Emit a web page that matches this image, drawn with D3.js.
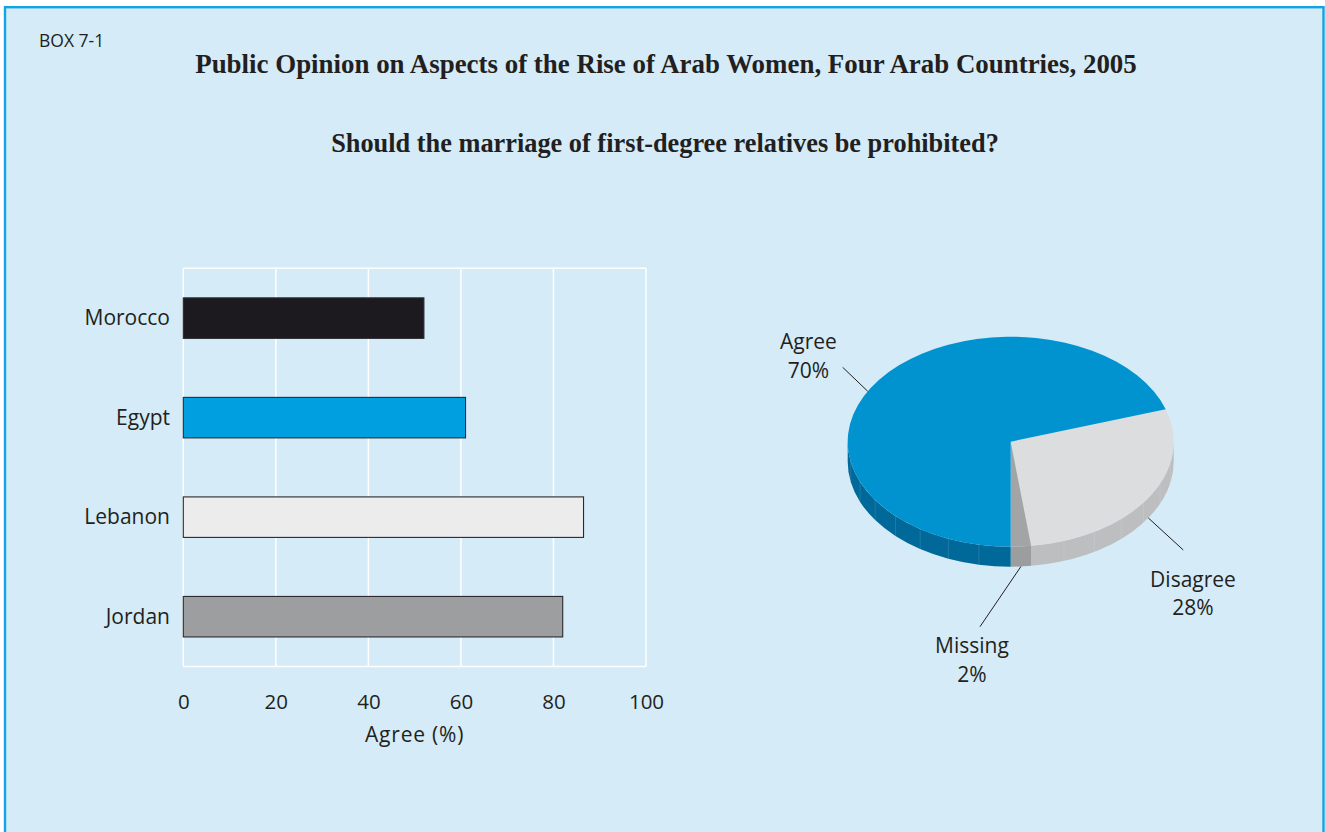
<!DOCTYPE html>
<html>
<head>
<meta charset="utf-8">
<script src="https://cdn.jsdelivr.net/npm/d3@7"></script>
<style>
  html, body { margin: 0; padding: 0; background: #ffffff; }
  svg { display: block; }
</style>
</head>
<body>
<svg id="chart" width="1325" height="832"></svg>
<script>
// ---------- DATA ----------
const boxLabel = "BOX 7-1";
const title = "Public Opinion on Aspects of the Rise of Arab Women, Four Arab Countries, 2005";
const subtitle = "Should the marriage of first-degree relatives be prohibited?";

const countries = ["Morocco", "Egypt", "Lebanon", "Jordan"];
const agreeValues = [52, 61, 86.5, 82];
const barColors = ["#1c1a1f", "#009fe0", "#ececec", "#9d9ea0"];
const xTicks = [0, 20, 40, 60, 80, 100];
const xAxisTitle = "Agree (%)";

const pieCategories = ["Disagree", "Missing", "Agree"];
const pieValues = [28, 2, 70];
const pieTopColors = ["#dcdddf", "#a3a4a6", "#0093d0"];
const pieSideColors = ["#bdbec0", "#9c9d9f", "#00699a"];

// ---------- LAYOUT ----------
const svg = d3.select("#chart");
const FONT = "'Open Sans', 'Noto Sans', sans-serif";
const SERIF = "'Liberation Serif', 'DejaVu Serif', serif";

svg.append("rect")
  .attr("x", 5).attr("y", 7.2).attr("width", 1318.5).attr("height", 900)
  .attr("fill", "#d5ebf8").attr("stroke", "#10a4e4").attr("stroke-width", 2.4);

svg.append("text").attr("x", 39).attr("y", 47)
  .attr("font-family", FONT).attr("font-size", 17.5).attr("fill", "#231f20")
  .text(boxLabel);

function fitText(sel, targetWidth) {
  const w = sel.node().getComputedTextLength();
  const fs = parseFloat(sel.attr("font-size"));
  sel.attr("font-size", fs * targetWidth / w);
}

const t1 = svg.append("text").attr("x", 666).attr("y", 73)
  .attr("text-anchor", "middle").attr("font-family", SERIF)
  .attr("font-weight", "bold").attr("font-size", 24).attr("fill", "#231f20")
  .text(title);
fitText(t1, 942);

const t2 = svg.append("text").attr("x", 665).attr("y", 151.5)
  .attr("text-anchor", "middle").attr("font-family", SERIF)
  .attr("font-weight", "bold").attr("font-size", 24).attr("fill", "#231f20")
  .text(subtitle);
fitText(t2, 668);

// ---------- BAR CHART ----------
const x = d3.scaleLinear().domain([0, 100]).range([183.3, 646]);
const y = d3.scaleBand().domain(countries).range([268.3, 666.5])
  .paddingInner(0.593).paddingOuter(0.297);

const gBar = svg.append("g");

gBar.selectAll("line.grid").data(xTicks).enter().append("line")
  .attr("x1", d => x(d)).attr("x2", d => x(d))
  .attr("y1", y.range()[0]).attr("y2", y.range()[1])
  .attr("stroke", "#ffffff").attr("stroke-width", 1.5);
[y.range()[0], y.range()[1]].forEach(yy => {
  gBar.append("line")
    .attr("x1", x(0)).attr("x2", x(100)).attr("y1", yy).attr("y2", yy)
    .attr("stroke", "#ffffff").attr("stroke-width", 1.5);
});

gBar.selectAll("rect.bar").data(countries).enter().append("rect")
  .attr("x", x(0))
  .attr("y", d => y(d))
  .attr("width", (d, i) => x(agreeValues[i]) - x(0))
  .attr("height", y.bandwidth())
  .attr("fill", (d, i) => barColors[i])
  .attr("stroke", "#2a2a2e").attr("stroke-width", 1.1);

gBar.selectAll("text.cat").data(countries).enter().append("text")
  .attr("x", 170).attr("y", d => y(d) + y.bandwidth() / 2)
  .attr("dy", "0.33em").attr("text-anchor", "end")
  .attr("font-family", FONT).attr("font-size", 21).attr("fill", "#231f20")
  .text(d => d);

const xAxis = d3.axisBottom(x).tickValues(xTicks).tickSize(0).tickPadding(0);
const gx = gBar.append("g").attr("transform", "translate(0,688)").call(xAxis);
gx.select(".domain").remove();
gx.selectAll("text").attr("font-family", FONT).attr("font-size", 20.5)
  .attr("fill", "#231f20").attr("dy", "1em");

gBar.append("text").attr("x", (x(0) + x(100)) / 2).attr("y", 742)
  .attr("text-anchor", "middle").attr("font-family", FONT).attr("font-size", 21)
  .attr("letter-spacing", 0.8)
  .attr("fill", "#231f20").text(xAxisTitle);

// ---------- 3D PIE ----------
const cx = 1010.7, cy = 441.7, rx = 163, ry = 105, depth = 20;
const startDeg = 72;
const pie = d3.pie().sort(null).value(d => d)
  .startAngle(startDeg * Math.PI / 180)
  .endAngle((startDeg + 360) * Math.PI / 180);
const arcs = pie(pieValues);

function pt(a, dy = 0) {
  return [cx + rx * Math.sin(a), cy - ry * Math.cos(a) + dy];
}
function topPath(a0, a1) {
  const p0 = pt(a0), p1 = pt(a1);
  const large = (a1 - a0) > Math.PI ? 1 : 0;
  return `M${cx},${cy}L${p0[0]},${p0[1]}A${rx},${ry} 0 ${large} 1 ${p1[0]},${p1[1]}Z`;
}
function sidePath(a0, a1) {
  const p0 = pt(a0), p1 = pt(a1), q1 = pt(a1, depth), q0 = pt(a0, depth);
  return `M${p0[0]},${p0[1]}A${rx},${ry} 0 0 1 ${p1[0]},${p1[1]}` +
         `L${q1[0]},${q1[1]}A${rx},${ry} 0 0 0 ${q0[0]},${q0[1]}Z`;
}

const gPie = svg.append("g");
arcs.forEach((d, i) => {
  for (let k = -1; k <= 1; k++) {
    const lo = Math.PI / 2 + k * 2 * Math.PI, hi = 1.5 * Math.PI + k * 2 * Math.PI;
    const s = Math.max(d.startAngle, lo), e = Math.min(d.endAngle, hi);
    if (e > s) {
      gPie.append("path").attr("d", sidePath(s, e))
        .attr("fill", pieSideColors[i]);
      const n = Math.max(1, Math.round((e - s) / 0.2));
      for (let j = 1; j < n; j++) {
        const a = s + (e - s) * j / n;
        const p = pt(a), q = pt(a, depth);
        gPie.append("line").attr("x1", p[0]).attr("y1", p[1])
          .attr("x2", q[0]).attr("y2", q[1])
          .attr("stroke", "#ffffff").attr("stroke-opacity", 0.15).attr("stroke-width", 0.8);
      }
    }
  }
});
arcs.forEach((d, i) => {
  gPie.append("path").attr("d", topPath(d.startAngle, d.endAngle))
    .attr("fill", pieTopColors[i]);
});

const labelLayout = {
  "Agree":    { a: 298.7, dy: 0,     end: [842.7, 367.3], tx: 808.5, ty: 349 },
  "Disagree": { a: null,  dy: depth, end: [1183.3, 550],  tx: 1193,  ty: 586.7 },
  "Missing":  { a: null,  dy: depth, end: [980, 626.7],   tx: 972,   ty: 653 }
};
arcs.forEach((d, i) => {
  const name = pieCategories[i];
  const L = labelLayout[name];
  const a = L.a !== null ? L.a * Math.PI / 180 : (d.startAngle + d.endAngle) / 2;
  const p = pt(a, L.dy);
  gPie.append("line").attr("x1", p[0]).attr("y1", p[1])
    .attr("x2", L.end[0]).attr("y2", L.end[1])
    .attr("stroke", "#231f20").attr("stroke-width", 1);
  const t = gPie.append("text").attr("text-anchor", "middle")
    .attr("font-family", FONT).attr("font-size", 21).attr("fill", "#231f20");
  t.append("tspan").attr("x", L.tx).attr("y", L.ty).text(name);
  t.append("tspan").attr("x", L.tx).attr("y", L.ty + 28.5).text(pieValues[i] + "%");
});
</script>
</body>
</html>
